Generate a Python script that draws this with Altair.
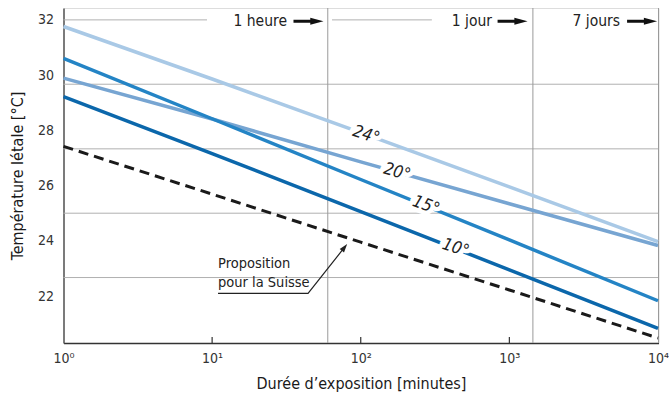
import altair as alt
import pandas as pd

# ---------------- data ----------------
minutes = [1, 10, 100, 1000, 10000]
t24 = [31.76, 29.86, 27.92, 25.95, 23.97]
t20 = [29.89, 28.41, 26.86, 25.34, 23.83]
t15 = [30.61, 28.42, 26.22, 24.03, 21.83]
t10 = [29.22, 27.16, 25.06, 22.95, 20.83]
suisse = [27.42, 25.69, 23.95, 22.22, 20.48]

series_names = ["24°", "20°", "15°", "10°"]
series_colors = ["#a9c9e6", "#77a5d2", "#2484c5", "#0b67ab"]

label_minutes = [108.6, 175.5, 275, 436]
label_temps = [27.83, 26.49, 25.28, 23.74]
label_angles = [18, 15, 20, 18]

y_ticks = [22, 24, 26, 28, 30, 32]
x_ticks = [1, 10, 100, 1000, 10000]
x_tick_labels = ["10⁰", "10¹", "10²", "10³", "10⁴"]
inner_ticks = [10, 100, 1000]

grid_temps = [29.67, 27.33, 25.0, 22.67]
top_grid_start = [1, 64.1]
top_grid_end = [9.24, 301]
top_grid_temp = 32

period_minutes = [60, 1440, 10080]
period_labels = ["1 heure", "1 jour", "7 jours"]
period_label_end = [31.9, 765, 5559]
period_arrow_mid = [44.5, 1051, 7816]
period_temp = 31.95

prop_lines = ["Proposition", "pour la Suisse"]
prop_x = 10.96
prop_y = [23.16, 22.48]
pointer_minutes = [10.96, 44.2, 77.2]
pointer_temps = [22.10, 22.10, 23.74]
pointer_angle = 38.5

# ---------------- setup ----------------
FONT = "Liberation Sans Narrow, DejaVu Sans Condensed, Liberation Sans, sans-serif"
W, H = 595, 335
xs = alt.Scale(type="log", domain=[1, 10080], nice=False)
ys = alt.Scale(domain=[20.3, 32.43], nice=False, zero=False)

expr = "''"
for v, lab in zip(reversed(x_ticks), reversed(x_tick_labels)):
    expr = f"datum.value == {v} ? '{lab}' : ({expr})"

x_axis = alt.Axis(values=x_ticks, labelExpr=expr, ticks=False, grid=False,
                  domainColor="#333", domainWidth=1.5, labelFont=FONT,
                  labelFontSize=14, labelColor="#333", labelPadding=8,
                  labelFlush=False, title="Durée d’exposition [minutes]",
                  titleFont=FONT, titleFontSize=16, titleFontWeight="normal",
                  titleColor="#1a1a1a", titlePadding=10)
y_axis = alt.Axis(values=y_ticks, ticks=False, grid=False,
                  domainColor="#555", domainWidth=1.5, labelFont=FONT,
                  labelFontSize=14, labelColor="#333", labelPadding=10,
                  title="Température létale [°C]", titleFont=FONT,
                  titleFontSize=16, titleFontWeight="normal",
                  titleColor="#1a1a1a", titlePadding=12)


def X(field):
    return alt.X(field, scale=xs, axis=x_axis)


def Y(field):
    return alt.Y(field, scale=ys, axis=y_axis)


rows = []
for name, vals in zip(series_names, [t24, t20, t15, t10]):
    for m, v in zip(minutes, vals):
        rows.append({"minutes": m, "temp": v, "serie": name})
lines_df = pd.DataFrame(rows)
suisse_df = pd.DataFrame({"minutes": minutes, "temp": suisse})
labels_df = pd.DataFrame({"minutes": label_minutes, "temp": label_temps,
                          "angle": label_angles, "label": series_names})

grid = alt.Chart(pd.DataFrame({"temp": grid_temps})).mark_rule(
    color="#b0b0b0", strokeWidth=1).encode(y=Y("temp:Q"))

top_grid = alt.Chart(pd.DataFrame({"minutes": top_grid_start, "b": top_grid_end,
                                   "temp": [top_grid_temp] * len(top_grid_start)})).mark_rule(
    color="#b0b0b0", strokeWidth=1).encode(x=X("minutes:Q"), x2="b:Q", y=Y("temp:Q"))

vlines = alt.Chart(pd.DataFrame({"minutes": period_minutes})).mark_rule(
    color="#9a9a9a", strokeWidth=1).encode(x=X("minutes:Q"))

series = alt.Chart(lines_df).mark_line(strokeWidth=3.5, strokeCap="butt").encode(
    x=X("minutes:Q"), y=Y("temp:Q"),
    color=alt.Color("serie:N", scale=alt.Scale(domain=series_names, range=series_colors),
                    legend=None),
    detail="serie:N",
)

halo = alt.Chart(labels_df).mark_text(font=FONT, fontSize=17, fontStyle="italic",
                                      stroke="white", strokeWidth=9, fill="white").encode(
    x=X("minutes:Q"), y=Y("temp:Q"), text="label:N", angle=alt.Angle("angle:Q", scale=None))
labels = alt.Chart(labels_df).mark_text(font=FONT, fontSize=17, fontStyle="italic",
                                        color="#222").encode(
    x=X("minutes:Q"), y=Y("temp:Q"), text="label:N", angle=alt.Angle("angle:Q", scale=None))

dashed = alt.Chart(suisse_df).mark_line(color="#1a1a1a", strokeWidth=3,
                                        strokeDash=[10, 6]).encode(
    x=X("minutes:Q"), y=Y("temp:Q"))

prop_text = alt.Chart(pd.DataFrame({"t": prop_lines, "temp": prop_y,
                                    "minutes": [prop_x] * 2})).mark_text(
    font=FONT, fontSize=14.5, align="left", baseline="middle", color="#222").encode(
    x=X("minutes:Q"), y=Y("temp:Q"), text="t:N")

pointer = alt.Chart(pd.DataFrame({"minutes": pointer_minutes, "temp": pointer_temps,
                                  "o": list(range(len(pointer_minutes)))})).mark_line(
    color="#222", strokeWidth=1.2).encode(x=X("minutes:Q"), y=Y("temp:Q"), order="o:Q")

pointer_head = alt.Chart(pd.DataFrame({"minutes": [pointer_minutes[-1]],
                                       "temp": [pointer_temps[-1]]})).mark_point(
    shape="M0,-1L0.55,0.7L-0.55,0.7Z", size=100, filled=True, color="#222",
    opacity=1, angle=pointer_angle, strokeWidth=0).encode(x=X("minutes:Q"), y=Y("temp:Q"))

period_text = alt.Chart(pd.DataFrame({"minutes": period_label_end, "t": period_labels,
                                      "temp": [period_temp] * 3})).mark_text(
    font=FONT, fontSize=15.5, align="right", baseline="middle", color="#222").encode(
    x=X("minutes:Q"), y=Y("temp:Q"), text="t:N")

period_arrows = alt.Chart(pd.DataFrame({"minutes": period_arrow_mid,
                                        "temp": [period_temp] * 3})).mark_point(
    shape="M-1,-0.1L0.12,-0.1L0.12,-0.24L1,0L0.12,0.24L0.12,0.1L-1,0.1Z",
    size=900, filled=True, color="#111", opacity=1, strokeWidth=0).encode(
    x=X("minutes:Q"), y=Y("temp:Q"))

ticks = alt.Chart(pd.DataFrame({"minutes": inner_ticks})).mark_rule(
    color="#333", strokeWidth=1.2).encode(
    x=X("minutes:Q"), y=alt.value(H), y2=alt.value(H - 6))

chart = alt.layer(
    grid, top_grid, vlines, series, halo, labels, dashed, prop_text, pointer,
    pointer_head, period_text, period_arrows, ticks
).properties(
    width=W, height=H,
    padding={"left": 63.5, "top": 8, "right": 10.5, "bottom": 55},
    autosize=alt.AutoSizeParams(type="none"),
).configure_view(stroke=None).configure(background="white")

chart.save("out.html", embed_options={"renderer": "svg", "actions": False})
